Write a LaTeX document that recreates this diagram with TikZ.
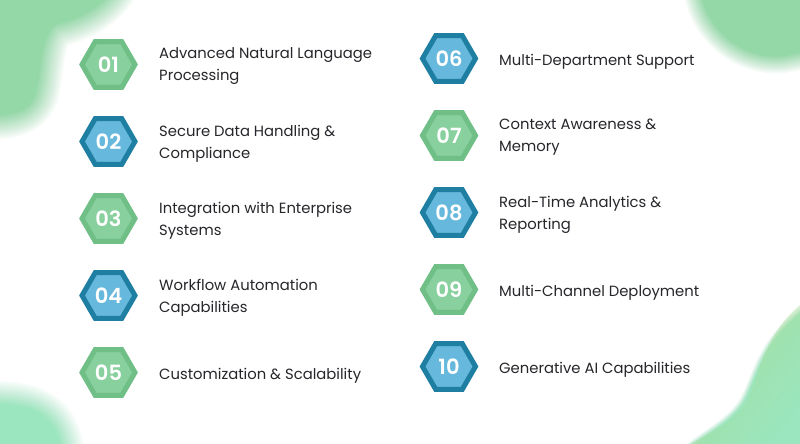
\documentclass[tikz,border=0pt]{standalone}
\usepackage{fontspec}
\usepackage{xcolor}
\usetikzlibrary{shapes.geometric,positioning,fadings}
\setmainfont{Poppins}
\newfontfamily\hexfont{Poppins SemiBold}
\definecolor{blobgreen}{HTML}{95D8A8}
\definecolor{blobmint}{HTML}{9BE6BE}
\definecolor{blobleaf}{HTML}{A8DC9A}
\definecolor{hexgreen}{HTML}{6FBF87}
\definecolor{hexgreenin}{HTML}{88D09D}
\definecolor{hexblue}{HTML}{1F7FA3}
\definecolor{hexbluein}{HTML}{66B8DC}
\definecolor{labeltext}{HTML}{26262B}
\tikzset{
  hexbox/.style={regular polygon,regular polygon sides=6,minimum size=53pt,inner sep=0pt,
                 line width=5pt,draw,text=white,font=\fontsize{21}{22}\selectfont\hexfont},
  hexg/.style={hexbox,draw=hexgreen,fill=hexgreenin},
  hexb/.style={hexbox,draw=hexblue,fill=hexbluein},
  itemlabel/.style={anchor=west,align=left,inner sep=0pt,text=labeltext,
                    font=\fontsize{14.8}{22}\selectfont}
}
% soft edge: strokes from wide to narrow, stacked to a linear ramp
\newcommand{\softblob}[3]{%
  \foreach \i [evaluate=\i as \op using 1/(\i+1)] in {16,15,...,1}
    \fill[#1,opacity=\op,draw=#1,line width={\i*#2 pt},line join=round] #3;
  \fill[#1] #3;
}
\begin{document}
\begin{tikzpicture}[x=1pt,y=-1pt]
  \useasboundingbox (0,0) rectangle (800,444);
  \begin{scope}
    \clip (0,0) rectangle (800,444);
    \fill[white] (0,0) rectangle (800,444);
    % corners
    \softblob{blobgreen}{3}{(-20,-20) -- (118,-20) .. controls (105,6) and (80,18) .. (55,24)
      .. controls (36,40) and (42,85) .. (32,100) .. controls (25,112) and (10,116) .. (-20,116) -- cycle}
    \softblob{blobgreen}{2.2}{(700,-20) .. controls (700,20) and (735,58) .. (780,56)
      .. controls (790,55) and (800,52) .. (820,48) -- (820,-20) -- cycle}
    \softblob{blobmint}{0.7}{(678,460) .. controls (700,435) and (735,425) .. (748,395)
      .. controls (760,370) and (765,335) .. (820,300) -- (820,460) -- cycle}
    \fill[blobleaf,opacity=0.85,path fading=east,fading angle=-45] (690,444) .. controls (710,432) and (738,422) .. (750,395)
      .. controls (760,370) and (765,335) .. (800,305) -- (800,444) -- cycle;
    \softblob{blobmint}{3}{(-20,404) .. controls (30,404) and (58,410) .. (62,460) -- (-20,460) -- cycle}
  \end{scope}
  % left column
  \node[hexg] (n01) at (108.5,64.5) {01};
  \node[hexb] (n02) at (108.5,141.5) {02};
  \node[hexg] (n03) at (108.5,218.5) {03};
  \node[hexb] (n04) at (108.5,295.5) {04};
  \node[hexg] (n05) at (108.5,372.5) {05};
  \node[itemlabel] (t01) at (159,66.5) {Advanced Natural Language\\Processing};
  \node[itemlabel] (t02) at (159,143.5) {Secure Data Handling \&\\Compliance};
  \node[itemlabel] (t03) at (159,220.5) {Integration with Enterprise\\Systems};
  \node[itemlabel] (t04) at (159,297.5) {Workflow Automation\\Capabilities};
  \node[itemlabel] (t05) at (159,375.5) {Customization \& Scalability};
  % right column
  \node[hexb] (n06) at (449,58.5) {06};
  \node[hexg] (n07) at (449,135.5) {07};
  \node[hexb] (n08) at (449,212.5) {08};
  \node[hexg] (n09) at (449,289.5) {09};
  \node[hexb] (n10) at (449,366.5) {10};
  \node[itemlabel] (t06) at (499,61.5) {Multi-Department Support};
  \node[itemlabel] (t07) at (499,137.5) {Context Awareness \&\\Memory};
  \node[itemlabel] (t08) at (499,214.5) {Real-Time Analytics \&\\Reporting};
  \node[itemlabel] (t09) at (499,292.5) {Multi-Channel Deployment};
  \node[itemlabel] (t10) at (499,369.5) {Generative AI Capabilities};
\end{tikzpicture}
\end{document}
